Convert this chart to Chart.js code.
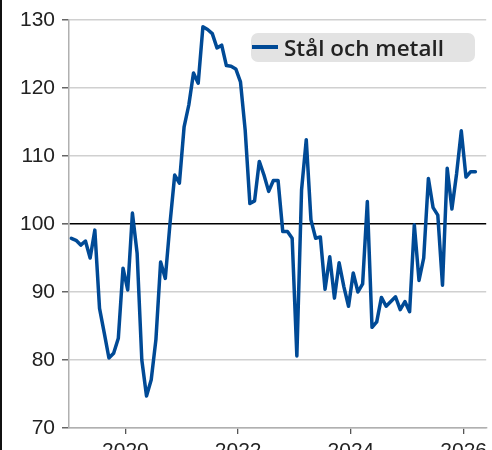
<!DOCTYPE html>
<html>
<head>
<meta charset="utf-8">
<script src="https://cdn.jsdelivr.net/npm/chart.js@4.4.1/dist/chart.umd.min.js"></script>
<style>
  html, body { margin: 0; padding: 0; background: #fff; overflow: hidden; }
  #wrap { position: relative; width: 492px; height: 466px; }
  #edge { position: absolute; left: 0; top: 0; width: 2px; height: 466px; background: #111; z-index: 2; }
</style>
</head>
<body>
<div id="wrap">
  <div id="edge"></div>
  <canvas id="c" width="492" height="466"></canvas>
</div>
<script>
// ---- data ----
const seriesLabel = "Stål och metall";
const months = [
  "2019-01","2019-02","2019-03","2019-04","2019-05","2019-06","2019-07","2019-08","2019-09","2019-10","2019-11","2019-12",
  "2020-01","2020-02","2020-03","2020-04","2020-05","2020-06","2020-07","2020-08","2020-09","2020-10","2020-11","2020-12",
  "2021-01","2021-02","2021-03","2021-04","2021-05","2021-06","2021-07","2021-08","2021-09","2021-10","2021-11","2021-12",
  "2022-01","2022-02","2022-03","2022-04","2022-05","2022-06","2022-07","2022-08","2022-09","2022-10","2022-11","2022-12",
  "2023-01","2023-02","2023-03","2023-04","2023-05","2023-06","2023-07","2023-08","2023-09","2023-10","2023-11","2023-12",
  "2024-01","2024-02","2024-03","2024-04","2024-05","2024-06","2024-07","2024-08","2024-09","2024-10","2024-11","2024-12",
  "2025-01","2025-02","2025-03","2025-04","2025-05","2025-06","2025-07","2025-08","2025-09","2025-10","2025-11","2025-12",
  "2026-01","2026-02","2026-03"
];
const values = [
  97.9, 97.6, 96.9, 97.5, 95.0, 99.1, 87.6, 84.0, 80.3, 81.0, 83.2, 93.5,
  90.3, 101.6, 95.7, 80.0, 74.7, 77.1, 83.0, 94.4, 92.0, 100.1, 107.2, 106.0,
  114.3, 117.5, 122.2, 120.7, 129.0, 128.6, 128.0, 125.9, 126.3, 123.3, 123.2, 122.8,
  120.9, 113.8, 103.0, 103.4, 109.2, 107.2, 104.8, 106.4, 106.4, 98.9, 98.9, 97.9,
  80.6, 105.0, 112.4, 100.6, 97.9, 98.1, 90.4, 95.2, 89.1, 94.3, 90.8, 87.9,
  92.8, 90.0, 91.2, 103.3, 84.8, 85.6, 89.2, 87.9, 88.6, 89.3, 87.4, 88.6,
  87.1, 99.9, 91.7, 95.0, 106.7, 102.4, 101.3, 91.0, 108.2, 102.2, 107.4, 113.7,
  106.9, 107.7, 107.7
];
const xTickYears = [2020, 2022, 2024, 2026];
const yTicks = [70, 80, 90, 100, 110, 120, 130];
const referenceValue = 100;

// ---- build ----
function monthToYear(s) {
  const [y, m] = s.split("-").map(Number);
  return y + (m - 0.5) / 12;
}
const points = months.map((m, i) => ({ x: monthToYear(m), y: values[i] }));

const lineColor = "#004a96";
const font = { family: "'Liberation Sans', Arial, sans-serif", size: 21 };

const boxLegend = {
  id: "boxLegend",
  afterDatasetsDraw(chart) {
    const ctx = chart.ctx;
    const ds = chart.data.datasets[0];
    const x0 = 251, y0 = 33, w = 224, h = 29, r = 7;
    ctx.save();
    ctx.fillStyle = "#e3e3e3";
    ctx.beginPath();
    ctx.roundRect(x0, y0, w, h, r);
    ctx.fill();
    ctx.strokeStyle = ds.borderColor;
    ctx.lineWidth = 4;
    ctx.beginPath();
    ctx.moveTo(252, 47);
    ctx.lineTo(278, 47);
    ctx.stroke();
    ctx.fillStyle = "#222";
    ctx.font = "600 21px 'Open Sans', 'Noto Sans', sans-serif";
    ctx.textBaseline = "alphabetic";
    const tw = ctx.measureText(ds.label).width;
    const target = 160;
    ctx.translate(284, 56);
    ctx.scale(target / tw, 1);
    ctx.fillText(ds.label, 0, 0);
    ctx.restore();
  }
};

new Chart(document.getElementById("c"), {
  type: "line",
  data: {
    datasets: [{
      label: seriesLabel,
      data: points,
      borderColor: lineColor,
      backgroundColor: lineColor,
      borderWidth: 3.5,
      pointRadius: 0,
      tension: 0,
      borderJoinStyle: "round",
      borderCapStyle: "round"
    }]
  },
  options: {
    responsive: false,
    animation: false,
    layout: { padding: { top: 20, right: 0, bottom: 0, left: 0 } },
    plugins: { legend: { display: false }, tooltip: { enabled: false } },
    scales: {
      x: {
        type: "linear",
        min: 2019,
        max: 2026.4,
        afterBuildTicks(scale) { scale.ticks = xTickYears.map(v => ({ value: v })); },
        afterFit(scale) { scale.height = 38; },
        ticks: { font, color: "#222", padding: 5, maxRotation: 0, callback: v => String(v) },
        grid: { display: true, drawOnChartArea: false, drawTicks: true, tickLength: 6, color: "#555", lineWidth: 1.3 },
        border: { display: true, color: "#b0b0b0", width: 1.5 }
      },
      y: {
        min: 70,
        max: 130,
        afterBuildTicks(scale) { scale.ticks = yTicks.map(v => ({ value: v })); },
        afterFit(scale) { scale.width = 69; },
        ticks: { font, color: "#222", padding: 7 },
        grid: {
          drawTicks: true,
          tickLength: 7,
          color: ctx => (ctx.tick && ctx.tick.value === referenceValue) ? "#000" : "#d0d0d0",
          lineWidth: ctx => (ctx.tick && ctx.tick.value === referenceValue) ? 1.6 : 1.5,
          tickColor: "#666"
        },
        border: { display: true, color: "#b0b0b0", width: 1.5 }
      }
    }
  },
  plugins: [boxLegend]
});
</script>
</body>
</html>
